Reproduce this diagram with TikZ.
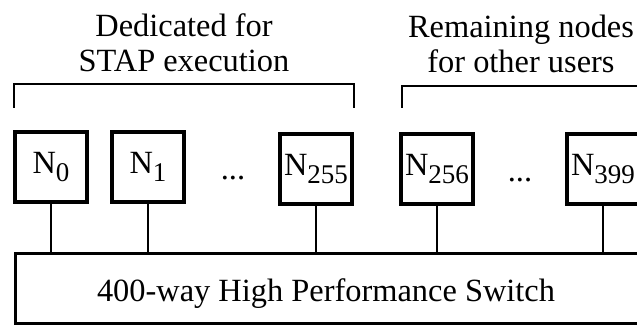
\documentclass[tikz,border=0pt]{standalone}
\usepackage{fontspec}
\setmainfont{Liberation Serif}
\usetikzlibrary{positioning}

\newcommand{\nodeidx}[1]{N\raisebox{-0.5ex}{\fontsize{13.5}{13.5}\selectfont #1}}

\begin{document}
\begin{tikzpicture}[
  x=0.5pt, y=-0.5pt,
  font=\fontsize{16.2}{17.5}\selectfont,
  pe/.style={rectangle, draw, line width=2.2pt, minimum width=36pt, minimum height=35pt, inner sep=0pt},
  switchbox/.style={rectangle, draw, line width=1.5pt, minimum width=340pt, minimum height=35pt, anchor=north west},
  link/.style={line width=1pt},
  bracket/.style={line width=0.9pt}
]
  \clip (0,0) rectangle (637,325);

  % group labels
  \node[align=center] (stap) at (184,43) {Dedicated for\\STAP execution};
  \node[align=center] (other) at (521,44) {Remaining nodes\\for other users};

  % brackets
  \coordinate (bl1) at (14,108);
  \coordinate (bl2) at (354,108);
  \coordinate (br1) at (402,108);
  \coordinate (br2) at (660,86);
  \draw[bracket] (bl1) |- (bl2 |- 0,84) -- (bl2);
  \draw[bracket] (br1) |- (br2);

  % processing nodes
  \node[pe] (n0) at (51,167) {\nodeidx{0}};
  \node[pe] (n1) at (148,167) {\nodeidx{1}};
  \node (dots1) at (233,178) {...};
  \node[pe] (n255) at (316,169) {\nodeidx{255}};
  \node[pe] (n256) at (437,169) {\nodeidx{256}};
  \node (dots2) at (520,180) {...};
  \node[pe] (n399) at (603,169) {\nodeidx{399}};

  % switch
  \node[switchbox] (sw) at (14,252) {};
  \node (swlabel) at (326,294) {400-way High Performance Switch};

  \foreach \n in {n0,n1,n255,n256,n399}
    \draw[link] (\n.south) -- (\n.south |- sw.north);
\end{tikzpicture}
\end{document}
